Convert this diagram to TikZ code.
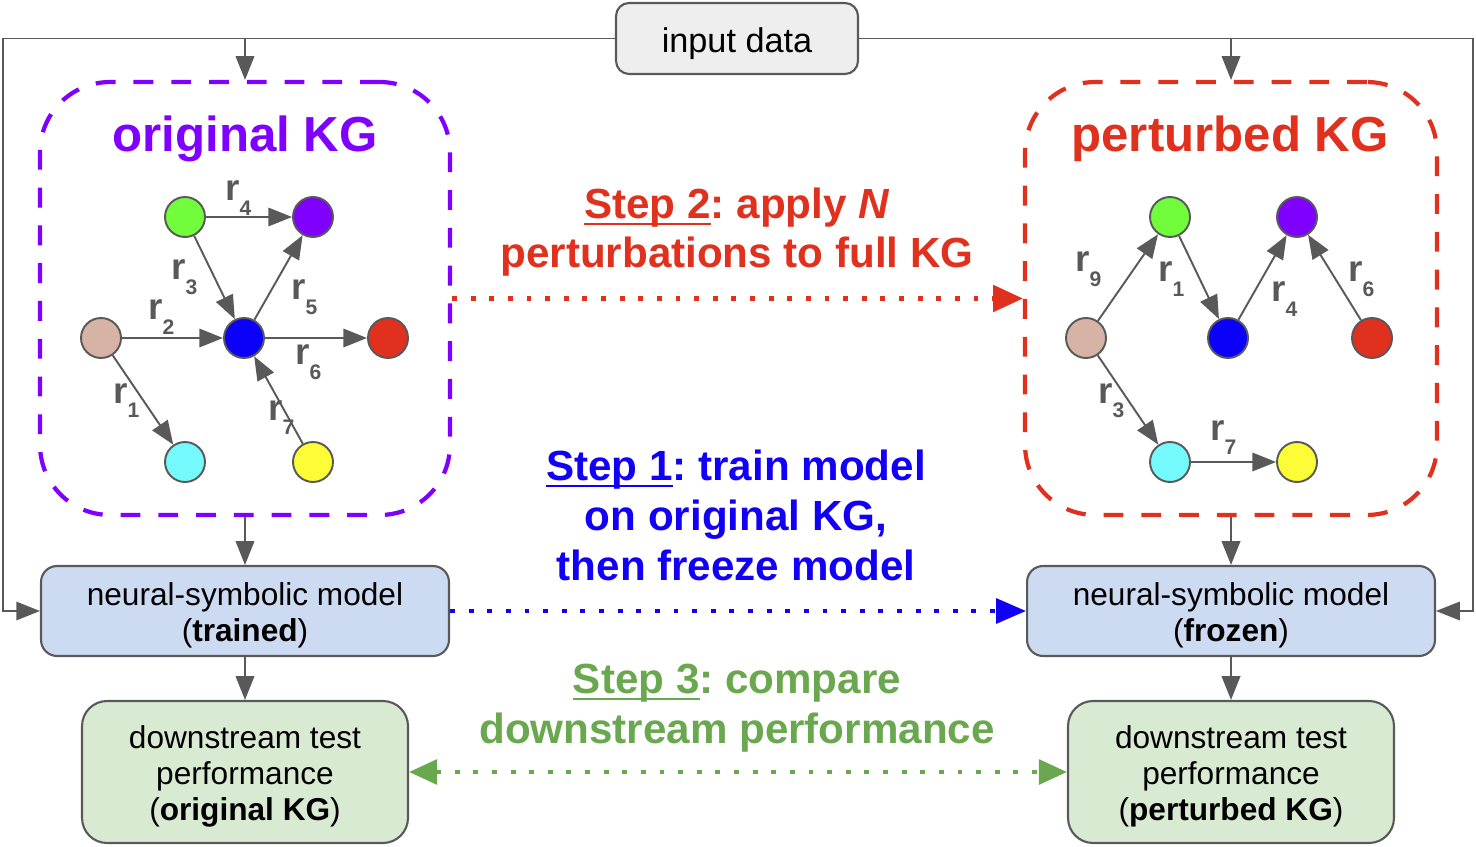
\documentclass[tikz,border=0pt]{standalone}
\usepackage{fontspec}
\setmainfont{Liberation Sans}
\usetikzlibrary{arrows.meta}
\frenchspacing
\definecolor{cgray}{HTML}{595959}
\definecolor{cpurple}{HTML}{8000FF}
\definecolor{cred}{HTML}{E0301E}
\definecolor{cblue}{HTML}{1100F5}
\definecolor{cgreen}{HTML}{6AA84F}
\definecolor{fblue}{HTML}{CCDBF2}
\definecolor{fgreen}{HTML}{D9EAD3}
\definecolor{fgray}{HTML}{EEEEEE}
\definecolor{ngreen}{HTML}{72FD3C}
\definecolor{npurple}{HTML}{8000FF}
\definecolor{ntan}{HTML}{D7B3A6}
\definecolor{nblue}{HTML}{0B00FA}
\definecolor{nred}{HTML}{E0301E}
\definecolor{ncyan}{HTML}{74FAFD}
\definecolor{nyellow}{HTML}{FDFD37}
\newcommand{\rlab}[1]{\textbf{r}\raisebox{-8.5pt}{\fontsize{12}{12}\selectfont\bfseries #1}}
\newcommand{\ulx}[1]{\setbox0\hbox{#1}\rlap{\rule[-0.17em]{\wd0}{0.065em}}\box0}
\begin{document}
\begin{tikzpicture}[x=0.02cm, y=-0.02cm,
 conn/.style={draw=cgray, line width=1.1pt, -{Triangle[length=13.5pt,width=10.5pt]}},
 kge/.style={conn},
 boxbase/.style={draw=cgray, line width=1.2pt, align=center, inner sep=0pt, font=\fontsize{18}{20.6}\selectfont},
 ibox/.style={boxbase, fill=fgray, rounded corners=0.26cm, font=\fontsize{19.5}{22}\selectfont, text height=16.4pt, text depth=0pt},
 mbox/.style={boxbase, fill=fblue, rounded corners=0.32cm, minimum width=8.16cm, minimum height=1.8cm, text height=38.5pt, text depth=3.8pt},
 dbox/.style={boxbase, fill=fgreen, rounded corners=0.5cm, minimum width=6.52cm, minimum height=2.84cm, text height=59.2pt, text depth=3.8pt},
 kgbox/.style={line width=2.4pt, dash pattern=on 11.3pt off 10.2pt, rounded corners=1.4cm, minimum width=8.2cm, minimum height=8.66cm, inner sep=0pt},
 kgn/.style={circle, draw=cgray, line width=1.1pt, minimum size=0.8cm, inner sep=0pt},
 lab/.style={anchor=base west, inner sep=0pt, text=cgray, font=\fontsize{21}{21}\selectfont},
 ttl/.style={anchor=base, inner sep=0pt, font=\bfseries\fontsize{28}{30}\selectfont},
 steptxt/.style={align=center, inner sep=0pt, font=\bfseries\fontsize{24}{28.4}\selectfont},
 dotarr/.style={line width=2.4pt, dash pattern=on 2.8pt off 7.8pt}
]
\useasboundingbox (0,0) rectangle (1476,847);

% boxes
\node[ibox, minimum width=4.84cm, minimum height=1.42cm] (input) at (737,38.5) {input data};
\node[kgbox, draw=cpurple] (okg) at (245,298.5) {};
\node[kgbox, draw=cred, minimum width=8.24cm] (pkg) at (1231,298.5) {};
\node[mbox] (mL) at (245,611) {neural-symbolic model\\(\textbf{trained})};
\node[mbox] (mR) at (1231,611) {neural-symbolic model\\(\textbf{frozen})};
\node[dbox] (dL) at (245,772) {downstream test\\performance\\(\textbf{original KG})};
\node[dbox] (dR) at (1231,772) {downstream test\\performance\\(\textbf{perturbed KG})};

% titles
\node[ttl, text=cpurple] (ot) at (245,152) {original KG};
\node[ttl, text=cred] (pt) at (1230,152) {perturbed KG};

% input connectors
\coordinate (cl) at (3,611);
\coordinate (cr) at (1473,611);
\draw[conn] (input.west) -| (cl) -- (mL.west);
\draw[conn] (input.east) -| (cr) -- (mR.east);
\draw[conn] (okg.north |- input.west) -- (okg.north);
\draw[conn] (pkg.north |- input.east) -- (pkg.north);
\draw[conn] (okg.south) -- (mL.north);
\draw[conn] (pkg.south) -- (mR.north);
\draw[conn] (mL.south) -- (dL.north);
\draw[conn] (mR.south) -- (dR.north);

% original KG graph
\node[kgn, fill=ngreen] (oa) at (185,217) {};
\node[kgn, fill=npurple] (ob) at (313,217) {};
\node[kgn, fill=ntan] (oc) at (101,338) {};
\node[kgn, fill=nred] (od) at (388,338) {};
\node[kgn, fill=nblue] (oe) at (244,338) {};
\node[kgn, fill=ncyan] (of) at (185,462) {};
\node[kgn, fill=nyellow] (og) at (313,462) {};
\draw[kge] (oa) -- (ob);
\draw[kge] (oa) -- (oe);
\draw[kge] (oc) -- (oe);
\draw[kge] (oe) -- (ob);
\draw[kge] (oe) -- (od);
\draw[kge] (oc) -- (of);
\draw[kge] (og) -- (oe);
\node[lab] (lo4) at (225,201) {\rlab{4}};
\node[lab] (lo3) at (171,280) {\rlab{3}};
\node[lab] (lo2) at (148,320) {\rlab{2}};
\node[lab] (lo5) at (291,300) {\rlab{5}};
\node[lab] (lo6) at (295,365) {\rlab{6}};
\node[lab] (lo1) at (113,403) {\rlab{1}};
\node[lab] (lo7) at (268,420) {\rlab{7}};

% perturbed KG graph
\node[kgn, fill=ngreen] (pa) at (1170,217) {};
\node[kgn, fill=npurple] (pb) at (1297,217) {};
\node[kgn, fill=ntan] (pc) at (1086,338) {};
\node[kgn, fill=nblue] (pe) at (1228,338) {};
\node[kgn, fill=nred] (pd) at (1372,338) {};
\node[kgn, fill=ncyan] (pf) at (1170,462) {};
\node[kgn, fill=nyellow] (pg) at (1297,462) {};
\draw[kge] (pc) -- (pa);
\draw[kge] (pa) -- (pe);
\draw[kge] (pe) -- (pb);
\draw[kge] (pd) -- (pb);
\draw[kge] (pc) -- (pf);
\draw[kge] (pf) -- (pg);
\node[lab] (lp9) at (1075,272) {\rlab{9}};
\node[lab] (lp1) at (1158,282) {\rlab{1}};
\node[lab] (lp4) at (1271,302) {\rlab{4}};
\node[lab] (lp6) at (1348,282) {\rlab{6}};
\node[lab] (lp3) at (1098,403) {\rlab{3}};
\node[lab] (lp7) at (1210,440) {\rlab{7}};

% step texts (base = last line)
\node[steptxt, text=cred, anchor=base] (s2) at (737,268) {\ulx{Step 2}: apply \textit{N}\\perturbations to full KG};
\node[steptxt, text=cblue, anchor=base] (s1) at (736,580) {\ulx{Step 1}: train model\\on original KG,\\then freeze model};
\node[steptxt, text=cgreen, anchor=base] (s3) at (737,743) {\ulx{Step 3}: compare\\downstream performance};

% dotted arrows
\draw[dotarr, cred, -{Triangle[length=17pt,width=15pt]}] (okg.east) -- (pkg.west);
\draw[dotarr, cblue, -{Triangle[length=17pt,width=14pt]}] (mL.east) -- (mR.west);
\draw[dotarr, cgreen, {Triangle[length=16pt,width=14pt]}-{Triangle[length=16pt,width=14pt]}] (dL.east) -- (dR.west);
\end{tikzpicture}
\end{document}
